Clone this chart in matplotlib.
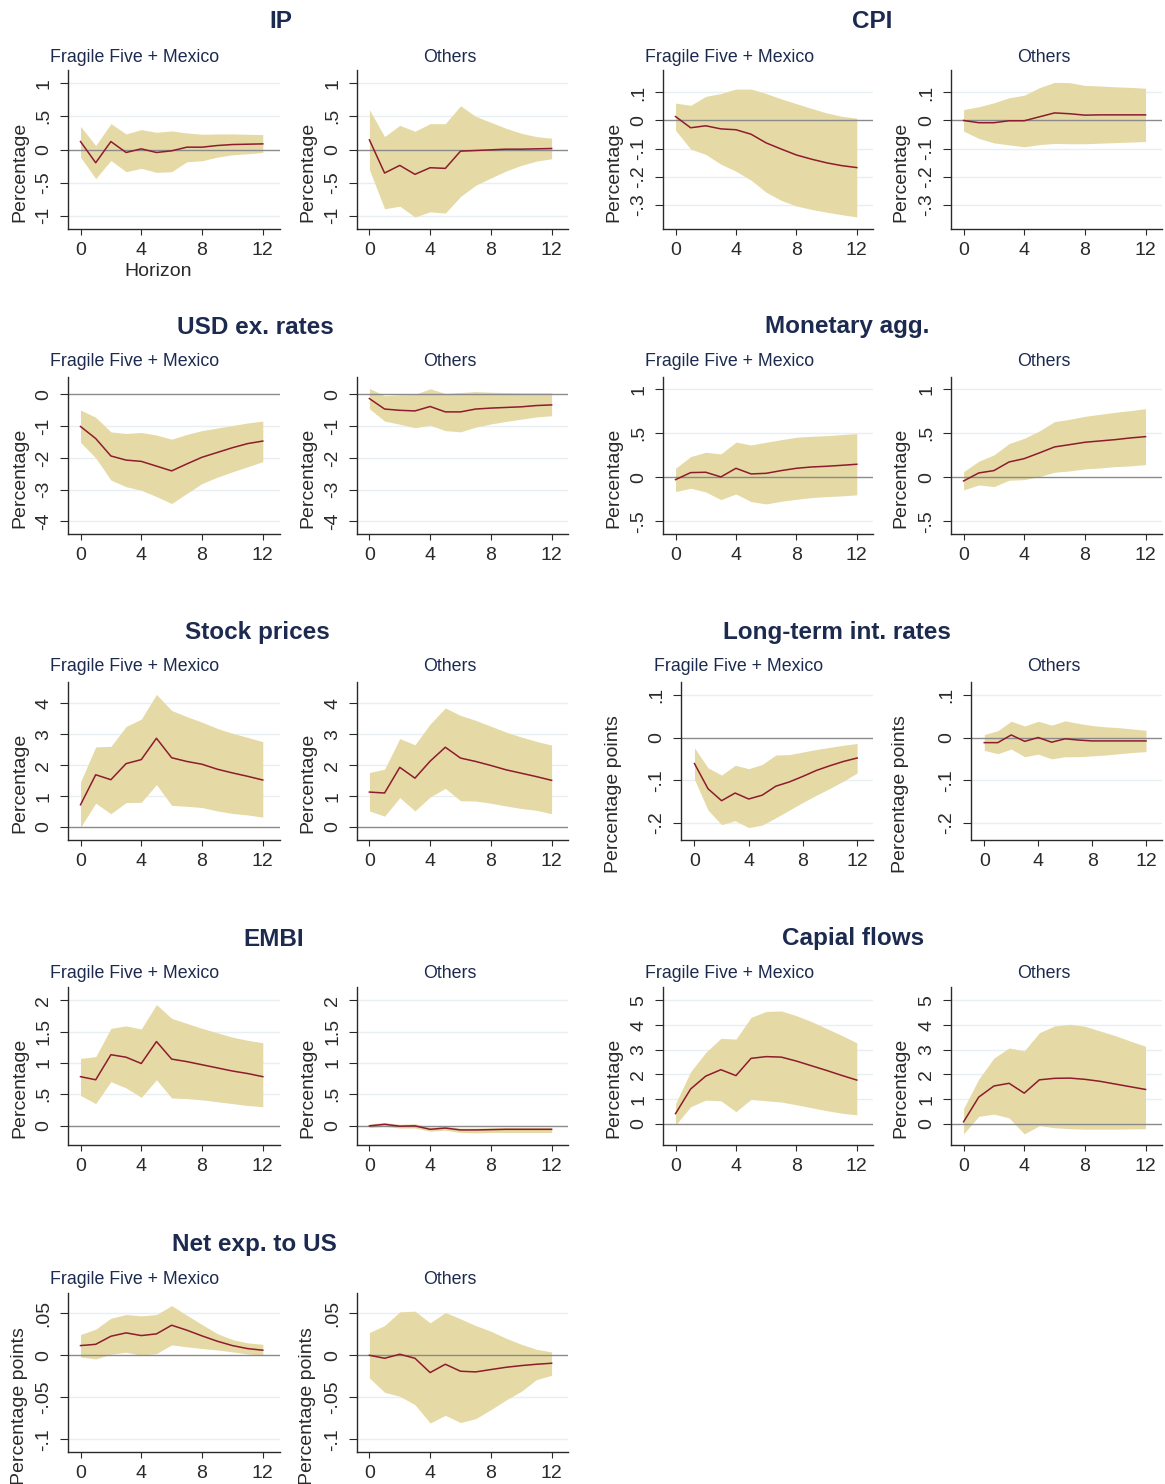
import matplotlib
matplotlib.use("Agg")
import matplotlib.pyplot as plt

plt.rcParams.update({
    'font.family': ['Liberation Sans', 'DejaVu Sans'],
    'font.size': 14,
})

H = list(range(13))
XTICKS = [0, 4, 8, 12]
GROUPS = ["Fragile Five + Mexico", "Others"]

# --- impulse responses: point estimate, lower, upper ---
IP_FF_IRF = [0.12, -0.20, 0.12, -0.045, 0.01, -0.045, -0.02, 0.035, 0.035, 0.06, 0.075, 0.08, 0.085]
IP_FF_LO = [-0.115, -0.44, -0.165, -0.335, -0.285, -0.345, -0.335, -0.185, -0.17, -0.115, -0.08, -0.065, -0.045]
IP_FF_HI = [0.35, 0.06, 0.39, 0.235, 0.30, 0.26, 0.28, 0.25, 0.23, 0.235, 0.235, 0.23, 0.225]
IP_OT_IRF = [0.145, -0.355, -0.24, -0.375, -0.275, -0.285, -0.025, -0.015, -0.005, 0.005, 0.005, 0.01, 0.015]
IP_OT_LO = [-0.305, -0.895, -0.855, -1.02, -0.94, -0.96, -0.71, -0.54, -0.43, -0.325, -0.24, -0.175, -0.14]
IP_OT_HI = [0.60, 0.195, 0.365, 0.275, 0.39, 0.39, 0.66, 0.50, 0.41, 0.32, 0.245, 0.195, 0.17]

CPI_FF_IRF = [0.014, -0.026, -0.019, -0.030, -0.033, -0.049, -0.080, -0.102, -0.123, -0.138, -0.151, -0.161, -0.168]
CPI_FF_LO = [-0.035, -0.102, -0.121, -0.156, -0.181, -0.213, -0.256, -0.285, -0.305, -0.317, -0.327, -0.336, -0.344]
CPI_FF_HI = [0.062, 0.054, 0.086, 0.096, 0.112, 0.112, 0.096, 0.077, 0.060, 0.043, 0.027, 0.015, 0.008]
CPI_OT_IRF = [0.0, -0.008, -0.008, -0.001, -0.001, 0.013, 0.027, 0.024, 0.019, 0.02, 0.02, 0.02, 0.02]
CPI_OT_LO = [-0.038, -0.064, -0.080, -0.087, -0.094, -0.086, -0.082, -0.083, -0.083, -0.081, -0.079, -0.077, -0.075]
CPI_OT_HI = [0.039, 0.049, 0.063, 0.081, 0.090, 0.117, 0.136, 0.135, 0.125, 0.123, 0.120, 0.118, 0.115]

USD_FF_IRF = [-1.01, -1.39, -1.94, -2.07, -2.11, -2.26, -2.41, -2.19, -1.98, -1.83, -1.68, -1.55, -1.47]
USD_FF_LO = [-1.51, -2.00, -2.70, -2.91, -3.02, -3.22, -3.44, -3.12, -2.81, -2.61, -2.44, -2.28, -2.12]
USD_FF_HI = [-0.49, -0.72, -1.18, -1.23, -1.20, -1.28, -1.41, -1.26, -1.14, -1.06, -0.98, -0.90, -0.84]
USD_OT_IRF = [-0.13, -0.46, -0.50, -0.52, -0.38, -0.55, -0.55, -0.46, -0.43, -0.41, -0.39, -0.35, -0.33]
USD_OT_LO = [-0.45, -0.84, -0.94, -1.05, -0.97, -1.14, -1.18, -1.03, -0.93, -0.85, -0.78, -0.71, -0.67]
USD_OT_HI = [0.19, -0.04, -0.01, 0.0, 0.18, 0.03, 0.06, 0.09, 0.07, 0.06, 0.05, 0.05, 0.05]

MON_FF_IRF = [-0.027, 0.053, 0.057, 0.004, 0.102, 0.038, 0.045, 0.076, 0.102, 0.117, 0.125, 0.136, 0.148]
MON_FF_LO = [-0.163, -0.125, -0.167, -0.254, -0.19, -0.277, -0.303, -0.273, -0.25, -0.231, -0.22, -0.212, -0.2]
MON_FF_HI = [0.102, 0.235, 0.284, 0.265, 0.40, 0.367, 0.398, 0.428, 0.455, 0.466, 0.473, 0.485, 0.496]
MON_OT_IRF = [-0.042, 0.049, 0.076, 0.174, 0.212, 0.277, 0.345, 0.371, 0.398, 0.413, 0.428, 0.447, 0.462]
MON_OT_LO = [-0.144, -0.087, -0.106, -0.034, -0.027, 0.008, 0.057, 0.072, 0.095, 0.106, 0.121, 0.129, 0.144]
MON_OT_HI = [0.064, 0.182, 0.254, 0.383, 0.443, 0.527, 0.633, 0.659, 0.693, 0.716, 0.739, 0.758, 0.78]

STK_FF_IRF = [0.72, 1.69, 1.53, 2.05, 2.18, 2.87, 2.24, 2.12, 2.03, 1.87, 1.75, 1.64, 1.52]
STK_FF_LO = [-0.01, 0.77, 0.43, 0.79, 0.80, 1.37, 0.70, 0.67, 0.63, 0.52, 0.44, 0.39, 0.32]
STK_FF_HI = [1.46, 2.59, 2.61, 3.25, 3.49, 4.29, 3.77, 3.57, 3.39, 3.19, 3.03, 2.90, 2.76]
STK_OT_IRF = [1.13, 1.10, 1.93, 1.58, 2.13, 2.58, 2.23, 2.12, 1.99, 1.85, 1.74, 1.63, 1.51]
STK_OT_LO = [0.52, 0.35, 0.95, 0.52, 0.97, 1.25, 0.85, 0.84, 0.77, 0.68, 0.60, 0.54, 0.43]
STK_OT_HI = [1.76, 1.87, 2.86, 2.66, 3.33, 3.85, 3.61, 3.45, 3.26, 3.07, 2.91, 2.77, 2.65]

LTR_FF_IRF = [-0.061, -0.120, -0.148, -0.130, -0.144, -0.135, -0.114, -0.104, -0.091, -0.077, -0.066, -0.056, -0.048]
LTR_FF_LO = [-0.098, -0.170, -0.204, -0.195, -0.211, -0.205, -0.188, -0.170, -0.152, -0.135, -0.119, -0.102, -0.083]
LTR_FF_HI = [-0.024, -0.071, -0.088, -0.065, -0.073, -0.063, -0.041, -0.040, -0.034, -0.028, -0.023, -0.018, -0.014]
LTR_OT_IRF = [-0.012, -0.012, 0.006, -0.009, 0.0, -0.011, -0.003, -0.006, -0.008, -0.008, -0.008, -0.008, -0.008]
LTR_OT_LO = [-0.030, -0.038, -0.027, -0.045, -0.039, -0.050, -0.045, -0.045, -0.043, -0.041, -0.038, -0.035, -0.033]
LTR_OT_HI = [0.007, 0.016, 0.038, 0.027, 0.038, 0.029, 0.039, 0.033, 0.028, 0.025, 0.023, 0.020, 0.017]

EMBI_FF_IRF = [0.78, 0.73, 1.13, 1.09, 0.99, 1.34, 1.06, 1.02, 0.97, 0.92, 0.87, 0.83, 0.78]
EMBI_FF_LO = [0.48, 0.35, 0.70, 0.60, 0.45, 0.73, 0.44, 0.43, 0.41, 0.38, 0.35, 0.32, 0.30]
EMBI_FF_HI = [1.07, 1.10, 1.55, 1.59, 1.54, 1.93, 1.71, 1.63, 1.55, 1.48, 1.41, 1.36, 1.32]
EMBI_OT_IRF = [-0.005, 0.02, -0.01, -0.005, -0.06, -0.04, -0.07, -0.07, -0.065, -0.06, -0.06, -0.06, -0.06]
EMBI_OT_LO = [-0.032, -0.01, -0.04, -0.04, -0.09, -0.075, -0.11, -0.117, -0.11, -0.11, -0.11, -0.11, -0.11]
EMBI_OT_HI = [0.027, 0.05, 0.02, 0.03, -0.027, -0.01, -0.04, -0.04, -0.035, -0.032, -0.032, -0.032, -0.032]

CAP_FF_IRF = [0.41, 1.41, 1.93, 2.19, 1.95, 2.65, 2.72, 2.70, 2.54, 2.35, 2.16, 1.96, 1.77]
CAP_FF_LO = [-0.05, 0.69, 0.96, 0.93, 0.49, 0.99, 0.93, 0.88, 0.77, 0.65, 0.53, 0.43, 0.36]
CAP_FF_HI = [0.82, 2.11, 2.89, 3.46, 3.43, 4.31, 4.55, 4.57, 4.38, 4.14, 3.86, 3.58, 3.28]
CAP_OT_IRF = [0.08, 1.08, 1.53, 1.64, 1.24, 1.78, 1.84, 1.85, 1.80, 1.72, 1.61, 1.50, 1.39]
CAP_OT_LO = [-0.41, 0.30, 0.39, 0.24, -0.41, -0.08, -0.16, -0.20, -0.22, -0.22, -0.22, -0.21, -0.20]
CAP_OT_HI = [0.62, 1.81, 2.66, 3.07, 2.95, 3.69, 3.96, 4.03, 3.95, 3.76, 3.57, 3.35, 3.14]

NX_FF_IRF = [0.0115, 0.013, 0.0226, 0.0266, 0.0234, 0.0254, 0.0357, 0.0298, 0.023, 0.0167, 0.0115, 0.0079, 0.006]
NX_FF_LO = [-0.002, -0.0044, 0.0012, 0.0036, 0.0, 0.002, 0.0123, 0.010, 0.008, 0.0063, 0.004, 0.0016, 0.0]
NX_FF_HI = [0.0246, 0.031, 0.044, 0.0484, 0.0468, 0.0484, 0.059, 0.0476, 0.0365, 0.0258, 0.0187, 0.0147, 0.013]
NX_OT_IRF = [0.0, -0.0036, 0.0012, -0.0036, -0.0206, -0.0107, -0.019, -0.0198, -0.017, -0.0143, -0.0123, -0.0107, -0.0095]
NX_OT_LO = [-0.027, -0.044, -0.0488, -0.0587, -0.0806, -0.0714, -0.080, -0.0754, -0.0647, -0.0532, -0.0429, -0.029, -0.0238]
NX_OT_HI = [0.027, 0.0353, 0.0516, 0.0524, 0.0385, 0.0508, 0.0433, 0.0353, 0.0286, 0.0202, 0.0131, 0.0071, 0.004]

# y ticks per variable
IP_YT = [-1, -0.5, 0, 0.5, 1]
CPI_YT = [-0.3, -0.2, -0.1, 0, 0.1]
USD_YT = [-4, -3, -2, -1, 0]
MON_YT = [-0.5, 0, 0.5, 1]
STK_YT = [0, 1, 2, 3, 4]
LTR_YT = [-0.2, -0.1, 0, 0.1]
EMBI_YT = [0, 0.5, 1, 1.5, 2]
CAP_YT = [0, 1, 2, 3, 4, 5]
NX_YT = [-0.1, -0.05, 0, 0.05]

BAND = "#E5DAA5"
LINE = "#8E1B2E"
ZERO = "#8A8A8A"
GRID = "#E8EFF2"
NAVY = "#1C2A4F"
AXC = "#2A2A2A"

W, HT = 1165, 1484
fig = plt.figure(figsize=(W / 100, HT / 100), dpi=100)

# row extents in pixels (top, bottom of plot area)
ROWS = [(70, 229), (377, 534), (682, 840), (987, 1145), (1293, 1452)]
TITLE_Y = [21, 327, 633, 939, 1245]
SUB_Y = [57, 362, 667, 973, 1279]

# layout kinds: (spine_px, end_px, ylabel_px, subtitle_px) for the two panels
LEFT = [(67.6, 279.5, 20, 135), (356.5, 568.3, 308, 450)]
RIGHT = [(662.7, 873.4, 614, 730), (950.7, 1162.2, 901, 1044)]
RIGHT_LT = [(680.9, 873.4, 614, 739), (970.8, 1162.2, 901, 1054)]

XL_STD = (-0.85, 13.1)
XL_LT = (-1.0, 13.2)

# (title, title_x, row, layout, ylabel, ylim, yticks, xlim, [(irf, lo, hi) x 2])
PANELS = [
    ("IP", 281, 0, LEFT, "Percentage", (-1.2, 1.2), IP_YT, XL_STD,
     [(IP_FF_IRF, IP_FF_LO, IP_FF_HI), (IP_OT_IRF, IP_OT_LO, IP_OT_HI)]),
    ("CPI", 872, 0, RIGHT, "Percentage", (-0.387, 0.18), CPI_YT, XL_STD,
     [(CPI_FF_IRF, CPI_FF_LO, CPI_FF_HI), (CPI_OT_IRF, CPI_OT_LO, CPI_OT_HI)]),
    ("USD ex. rates", 255.5, 1, LEFT, "Percentage", (-4.4, 0.55), USD_YT, XL_STD,
     [(USD_FF_IRF, USD_FF_LO, USD_FF_HI), (USD_OT_IRF, USD_OT_LO, USD_OT_HI)]),
    ("Monetary agg.", 847, 1, RIGHT, "Percentage", (-0.645, 1.14), MON_YT, XL_STD,
     [(MON_FF_IRF, MON_FF_LO, MON_FF_HI), (MON_OT_IRF, MON_OT_LO, MON_OT_HI)]),
    ("Stock prices", 257, 2, LEFT, "Percentage", (-0.42, 4.69), STK_YT, XL_STD,
     [(STK_FF_IRF, STK_FF_LO, STK_FF_HI), (STK_OT_IRF, STK_OT_LO, STK_OT_HI)]),
    ("Long-term int. rates", 837, 2, RIGHT_LT, "Percentage points", (-0.24, 0.13), LTR_YT, XL_LT,
     [(LTR_FF_IRF, LTR_FF_LO, LTR_FF_HI), (LTR_OT_IRF, LTR_OT_LO, LTR_OT_HI)]),
    ("EMBI", 273.5, 3, LEFT, "Percentage", (-0.31, 2.21), EMBI_YT, XL_STD,
     [(EMBI_FF_IRF, EMBI_FF_LO, EMBI_FF_HI), (EMBI_OT_IRF, EMBI_OT_LO, EMBI_OT_HI)]),
    ("Capial flows", 852.6, 3, RIGHT, "Percentage", (-0.86, 5.54), CAP_YT, XL_STD,
     [(CAP_FF_IRF, CAP_FF_LO, CAP_FF_HI), (CAP_OT_IRF, CAP_OT_LO, CAP_OT_HI)]),
    ("Net exp. to US", 254, 4, LEFT, "Percentage points", (-0.115, 0.074), NX_YT, XL_STD,
     [(NX_FF_IRF, NX_FF_LO, NX_FF_HI), (NX_OT_IRF, NX_OT_LO, NX_OT_HI)]),
]


def stata_fmt(v):
    # Stata drops the leading zero: -0.5 -> -.5
    s = f"{v:g}"
    return s.replace("0.", ".")


for title, tx, row, layout, ylab, ylim, yticks, xlim, series in PANELS:
    top, bot = ROWS[row]
    fig.text(tx / W, 1 - TITLE_Y[row] / HT, title, ha="center", va="center",
             fontsize=17.5, fontweight="bold", color=NAVY)
    for k, (spine, end, ylab_x, sub_x) in enumerate(layout):
        irf, lo, hi = series[k]
        ax = fig.add_axes([spine / W, 1 - bot / HT, (end - spine) / W, (bot - top) / HT])
        fig.text(sub_x / W, 1 - SUB_Y[row] / HT, GROUPS[k], ha="center", va="center",
                 fontsize=12.8, color=NAVY)

        for v in yticks:
            if v != 0:
                ax.axhline(v, color=GRID, lw=1.0, zorder=0)
        ax.fill_between(H, lo, hi, color=BAND, lw=0, zorder=1)
        ax.axhline(0, color=ZERO, lw=1.0, zorder=2)
        ax.plot(H, irf, color=LINE, lw=1.1, zorder=3)

        ax.set_xlim(*xlim)
        ax.set_ylim(*ylim)
        ax.set_xticks(XTICKS)
        ax.set_yticks(yticks)
        ax.set_yticklabels([stata_fmt(v) for v in yticks], rotation=90, va="center")
        ax.tick_params(axis="x", length=4.5, width=0.8, pad=5, labelsize=14, colors=AXC)
        ax.tick_params(axis="y", length=6, width=0.8, pad=5, labelsize=14, colors=AXC)
        for s in ("top", "right"):
            ax.spines[s].set_visible(False)
        for s in ("left", "bottom"):
            ax.spines[s].set_color(AXC)
            ax.spines[s].set_linewidth(1.0)

        wpx = end - spine
        ax.set_ylabel(ylab, fontsize=14, color=AXC)
        ax.yaxis.label.set_va("center")
        yfrac = 0.36 if ylab == "Percentage" else 0.29
        ax.yaxis.set_label_coords((ylab_x - spine) / wpx, yfrac)

        if row == 0 and k == 0 and layout is LEFT:
            ax.set_xlabel("Horizon", fontsize=14, color=AXC)
            ax.xaxis.label.set_va("center")
            ax.xaxis.set_label_coords((158 - spine) / wpx, (bot - 271) / (bot - top))

fig.savefig("out.png", dpi=100)
